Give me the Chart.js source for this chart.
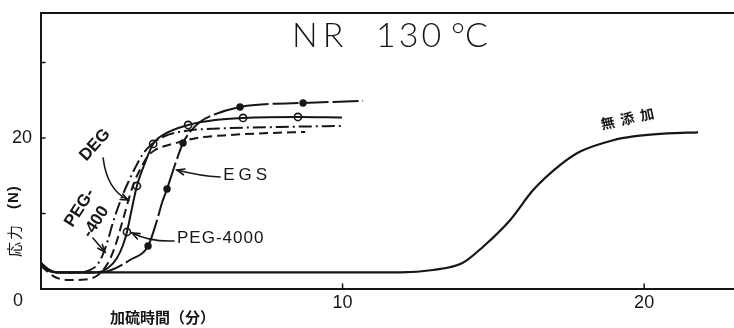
<!DOCTYPE html>
<html><head><meta charset="utf-8">
<script src="https://cdn.jsdelivr.net/npm/chart.js@4/dist/chart.umd.min.js"></script>
<style>html,body{margin:0;padding:0;background:#fff;} canvas{display:block;}</style>
</head><body>
<canvas id="c" width="734" height="328"></canvas>
<script>
// ---------------- data (minutes, N) ----------------
const xTickLabels = {10: '10', 20: '20'};
const yTickLabels = {20: '20'};
const chartTitle = ['NR', '130', '°C'];
const xAxisTitle = '加硫時間（分）';
const yAxisTitle = ['応力', '(N)'];
const seriesNames = ['PEG-400', 'DEG', 'PEG-4000', 'EGS', '無添加'];

const peg400X = [0, 0.23, 0.56, 1.29, 1.63, 1.86, 2.06, 2.22, 2.39, 2.62, 2.85, 3.12, 3.38, 3.68, 4.11, 4.78, 5.94, 7.93, 9.98];
const peg400Y = [3.44, 2.65, 2.19, 2.19, 2.52, 3.18, 4.64, 6.49, 8.87, 11.52, 13.77, 16.03, 17.88, 19.21, 20.26, 20.93, 21.26, 21.46, 21.59];

const degX = [0, 0.23, 0.46, 0.90, 1.46, 1.89, 2.22, 2.45, 2.62, 2.79, 2.95, 3.12, 3.28, 3.52, 3.78, 4.11, 4.61, 5.17, 6.27, 7.60, 8.76];
const degY = [3.05, 2.25, 1.59, 1.19, 1.26, 1.85, 3.44, 5.56, 7.81, 10.2, 12.45, 14.44, 15.76, 17.48, 18.41, 18.94, 19.47, 20.0, 20.4, 20.66, 20.79];

const peg4000X = [0, 0.23, 0.56, 1.79, 2.22, 2.52, 2.72, 2.85, 2.99, 3.18, 3.42, 3.72, 4.11, 4.88, 5.77, 6.70, 8.52, 9.98];
const peg4000Y = [3.44, 2.65, 2.19, 2.19, 2.78, 4.11, 5.83, 7.55, 10.2, 13.64, 16.42, 19.21, 20.53, 21.72, 22.38, 22.65, 22.78, 22.72];
const peg4000MarkX = [2.85, 3.18, 3.72, 4.88, 6.70, 8.52];
const peg4000MarkY = [7.55, 13.64, 19.21, 21.72, 22.65, 22.78];

const egsX = [0, 0.23, 0.56, 1.96, 2.29, 2.95, 3.55, 3.85, 4.01, 4.18, 4.44, 4.71, 4.94, 5.27, 5.71, 6.60, 7.60, 8.69, 10.68];
const egsY = [3.44, 2.65, 2.19, 2.19, 2.45, 3.84, 5.70, 9.14, 11.39, 13.25, 16.42, 19.34, 20.79, 22.12, 23.05, 24.11, 24.50, 24.64, 24.90];
const egsMarkX = [3.55, 4.18, 4.71, 6.60, 8.69];
const egsMarkY = [5.70, 13.25, 19.34, 24.11, 24.64];

const noneX = [0, 0.13, 0.30, 0.60, 5.0, 11.91, 13.0, 13.96, 14.66, 15.56, 16.32, 17.21, 17.88, 18.97, 19.64, 20.76, 21.79];
const noneY = [3.44, 2.78, 2.32, 2.19, 2.19, 2.21, 2.52, 3.40, 5.6, 9.14, 13.1, 16.4, 18.2, 19.7, 20.2, 20.6, 20.75];

// ---------------- build ----------------
const ink = '#161616';
const pts = (xs, ys) => xs.map((v, i) => ({x: v, y: ys[i]}));
const lineDs = (label, xs, ys, dash, w) => ({
  label, data: pts(xs, ys), showLine: true, borderColor: ink, borderWidth: w || 2,
  borderDash: dash, pointRadius: 0, cubicInterpolationMode: 'monotone', fill: false
});

const datasets = [
  lineDs(seriesNames[4], noneX, noneY, [], 2.2),
  lineDs(seriesNames[0], peg400X, peg400Y, [13, 4, 2, 4]),
  lineDs(seriesNames[1], degX, degY, [9, 5]),
  lineDs(seriesNames[2], peg4000X, peg4000Y, []),
  lineDs(seriesNames[3], egsX, egsY, [26, 4]),
  {label: seriesNames[2] + ' pts', data: pts(peg4000MarkX, peg4000MarkY), showLine: false,
   pointRadius: 3.6, pointBackgroundColor: '#fff', pointBorderColor: ink, pointBorderWidth: 1.6},
  {label: seriesNames[3] + ' pts', data: pts(egsMarkX, egsMarkY), showLine: false,
   pointRadius: 5, pointBackgroundColor: ink, pointBorderColor: '#fff', pointBorderWidth: 2.6}
];

function arrow(ctx, p0, c, p1) {
  ctx.beginPath(); ctx.moveTo(p0[0], p0[1]);
  if (c) ctx.quadraticCurveTo(c[0], c[1], p1[0], p1[1]); else ctx.lineTo(p1[0], p1[1]);
  ctx.stroke();
  const from = c || p0;
  const ang = Math.atan2(p1[1] - from[1], p1[0] - from[0]);
  const L = 8, s = 0.38;
  ctx.beginPath();
  ctx.moveTo(p1[0] - L * Math.cos(ang - s), p1[1] - L * Math.sin(ang - s));
  ctx.lineTo(p1[0], p1[1]);
  ctx.lineTo(p1[0] - L * Math.cos(ang + s), p1[1] - L * Math.sin(ang + s));
  ctx.stroke();
}
function rtext(ctx, txt, px, py, deg, font, spacing) {
  ctx.save(); ctx.translate(px, py); ctx.rotate(deg * Math.PI / 180);
  ctx.font = font; ctx.letterSpacing = (spacing || 0) + 'px';
  ctx.textAlign = 'center'; ctx.textBaseline = 'middle';
  ctx.fillText(txt, 0, 0); ctx.restore();
}

const deco = {
  id: 'deco',
  afterDraw(chart) {
    const {ctx, chartArea: a, scales: {x, y}} = chart;
    const P = (vx, vy) => [x.getPixelForValue(vx), y.getPixelForValue(vy)];
    ctx.save();
    ctx.strokeStyle = ink; ctx.fillStyle = ink; ctx.lineCap = 'round';
    // top frame
    ctx.lineWidth = 2;
    ctx.beginPath(); ctx.moveTo(a.left, a.top); ctx.lineTo(a.right, a.top); ctx.stroke();
    // inward tick marks
    ctx.lineWidth = 1.5;
    y.ticks.forEach(t => { if (t.value > 0) { const py = y.getPixelForValue(t.value);
      ctx.beginPath(); ctx.moveTo(a.left, py); ctx.lineTo(a.left + 4, py); ctx.stroke(); } });
    x.ticks.forEach(t => { if (t.value > 0) { const px = x.getPixelForValue(t.value);
      ctx.beginPath(); ctx.moveTo(px, a.bottom); ctx.lineTo(px, a.bottom - 5); ctx.stroke(); } });

    // title
    ctx.font = '300 34px Lato, "Liberation Sans", sans-serif';
    ctx.textBaseline = 'alphabetic'; ctx.textAlign = 'left';
    ctx.letterSpacing = '5px';
    ctx.fillText(chartTitle[0], a.left + 251, a.top + 34);
    ctx.letterSpacing = '3px';
    ctx.fillText(chartTitle[1], a.left + 335, a.top + 34);
    ctx.letterSpacing = '0px';
    ctx.fillText(chartTitle[2], a.left + 410, a.top + 34);

    // origin label
    ctx.font = '18px "Liberation Sans", sans-serif';
    ctx.textAlign = 'center'; ctx.textBaseline = 'middle';
    ctx.fillText('0', a.left - 23, a.bottom + 12);

    // axis titles
    ctx.font = 'bold 15px "Noto Sans CJK JP", sans-serif';
    ctx.textAlign = 'left'; ctx.letterSpacing = '0px';
    ctx.fillText(xAxisTitle, a.left + 69, a.bottom + 28);
    ctx.save(); ctx.translate(14, 257); ctx.rotate(-Math.PI / 2);
    ctx.font = '15px "Noto Sans CJK JP", sans-serif'; ctx.letterSpacing = '2px';
    ctx.fillText(yAxisTitle[0], 0, 0);
    ctx.font = 'bold 15px "Liberation Sans", sans-serif'; ctx.letterSpacing = '1px';
    ctx.fillText(yAxisTitle[1], 48, 0);
    ctx.restore();

    // series labels
    const lf = 'bold 17px "Liberation Sans", sans-serif';
    const lp = '17px "Liberation Sans", sans-serif';
    let p = P(1.79, 19.07); rtext(ctx, seriesNames[1], p[0], p[1], -48, lf, 0);
    p = P(1.29, 10.73); rtext(ctx, 'PEG-', p[0], p[1], -57, lf, 0);
    p = P(1.82, 8.87); rtext(ctx, '-400', p[0], p[1], -57, lf, 0);
    ctx.font = lp; ctx.letterSpacing = '1px'; ctx.textAlign = 'left'; ctx.textBaseline = 'middle';
    p = P(4.51, 6.75); ctx.fillText(seriesNames[2], p[0], p[1]);
    ctx.letterSpacing = '4px';
    p = P(6.04, 15.10); ctx.fillText(seriesNames[3], p[0], p[1]);
    p = P(19.54, 22.65); rtext(ctx, seriesNames[4], p[0], p[1], -12, 'bold 14px "Noto Sans CJK JP", sans-serif', 6);

    // arrows
    ctx.lineWidth = 1.6; ctx.letterSpacing = '0px';
    arrow(ctx, P(2.06, 17.35), P(2.19, 13.11), P(2.89, 11.79));
    arrow(ctx, P(1.72, 6.75), null, P(2.12, 4.90));
    arrow(ctx, P(4.41, 6.36), P(3.62, 6.23), P(3.02, 7.42));
    arrow(ctx, P(5.94, 14.83), P(5.27, 14.97), P(4.51, 15.76));
    ctx.restore();
  }
};

new Chart(document.getElementById('c'), {
  type: 'scatter',
  data: {datasets},
  options: {
    responsive: false, animation: false, devicePixelRatio: 1,
    layout: {autoPadding: false, padding: {top: 13, right: 0, bottom: 0, left: 0}},
    plugins: {legend: {display: false}, tooltip: {enabled: false}, title: {display: false}},
    scales: {
      x: {
        type: 'linear', min: 0, max: 22.98,
        border: {display: true, width: 2, color: ink},
        grid: {display: true, drawOnChartArea: false, drawTicks: false},
        ticks: {stepSize: 10, includeBounds: false, padding: 3, color: ink, maxRotation: 0,
          font: {family: '"Liberation Sans", sans-serif', size: 18},
          callback: v => xTickLabels[v] || ''},
        afterFit: s => { s.height = 39; s.paddingLeft = 0; s.paddingRight = 0; }
      },
      y: {
        type: 'linear', min: 0, max: 36.55,
        border: {display: true, width: 2, color: ink},
        grid: {display: true, drawOnChartArea: false, drawTicks: false},
        ticks: {stepSize: 10, includeBounds: false, padding: 9, color: ink,
          font: {family: '"Liberation Sans", sans-serif', size: 18},
          callback: v => yTickLabels[v] || ''},
        afterFit: s => { s.width = 41; s.paddingTop = 0; s.paddingBottom = 0; }
      }
    }
  },
  plugins: [deco]
});
</script>
</body></html>
